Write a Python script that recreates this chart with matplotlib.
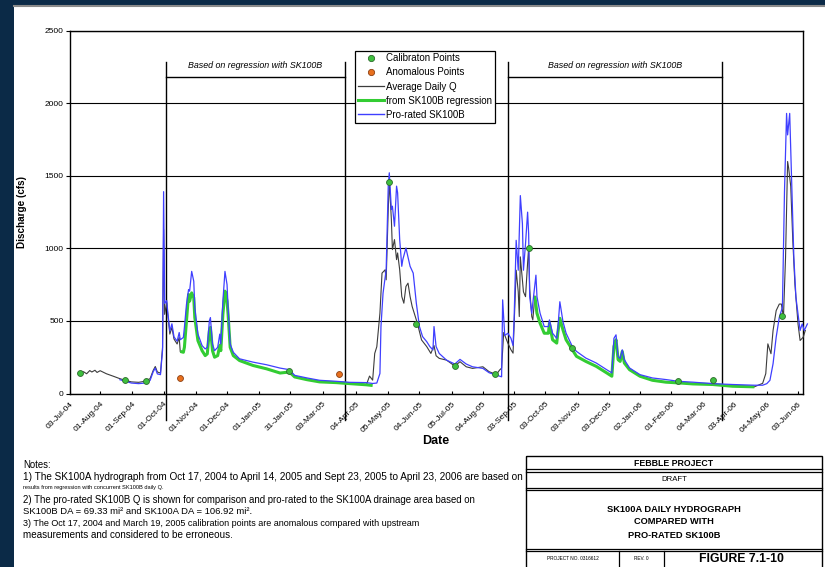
import matplotlib
matplotlib.use('Agg')
import matplotlib.pyplot as plt
import pandas as pd
from matplotlib.lines import Line2D
from matplotlib.patches import Rectangle

plt.rcParams['font.family'] = ['Liberation Sans', 'DejaVu Sans']

# ---------------- data ----------------
tick_dates = ['2004-07-03', '2004-08-01', '2004-09-01', '2004-10-01', '2004-11-01', '2004-12-01',
              '2005-01-01', '2005-01-31', '2005-03-03', '2005-04-04', '2005-05-05', '2005-06-04',
              '2005-07-05', '2005-08-04', '2005-09-03', '2005-10-03', '2005-11-03', '2005-12-03',
              '2006-01-02', '2006-02-01', '2006-03-04', '2006-04-03', '2006-05-04', '2006-06-03']
y_ticks = [0, 500, 1000, 1500, 2000, 2500]

# Average Daily Q (observed) segments
avgq_dates_1 = ['2004-07-13', '2004-07-16', '2004-07-19', '2004-07-22', '2004-07-24', '2004-07-27',
                '2004-07-29', '2004-08-01', '2004-08-03', '2004-08-07', '2004-08-14', '2004-08-20',
                '2004-08-25', '2004-08-31', '2004-09-07', '2004-09-13', '2004-09-18', '2004-09-21',
                '2004-09-23', '2004-09-25', '2004-09-28', '2004-09-30', '2004-10-01', '2004-10-02',
                '2004-10-04', '2004-10-05', '2004-10-07', '2004-10-09', '2004-10-11', '2004-10-14',
                '2004-10-16', '2004-10-17']
avgq_1 = [141, 150, 136, 158, 148, 160, 145, 157, 150, 136, 118, 102, 91, 80, 77, 84, 102, 159,
          186, 148, 141, 318, 1130, 545, 625, 545, 409, 455, 375, 341, 386, 290]

avgq_dates_2 = ['2005-04-14', '2005-04-17', '2005-04-20', '2005-04-22', '2005-04-24', '2005-04-27',
                '2005-04-29', '2005-05-02', '2005-05-03', '2005-05-05', '2005-05-06', '2005-05-08',
                '2005-05-09', '2005-05-11', '2005-05-13', '2005-05-14', '2005-05-16', '2005-05-18',
                '2005-05-20', '2005-05-22', '2005-05-24', '2005-05-26', '2005-05-28', '2005-06-01',
                '2005-06-02', '2005-06-06', '2005-06-11', '2005-06-15', '2005-06-18', '2005-06-20',
                '2005-06-23', '2005-06-30', '2005-07-08', '2005-07-13', '2005-07-19', '2005-07-25',
                '2005-08-04', '2005-08-10', '2005-08-17', '2005-08-20', '2005-08-22', '2005-08-24',
                '2005-08-28', '2005-08-31', '2005-09-02', '2005-09-05', '2005-09-07', '2005-09-08',
                '2005-09-09', '2005-09-11', '2005-09-12', '2005-09-14', '2005-09-16', '2005-09-17',
                '2005-09-18', '2005-09-20', '2005-09-21', '2005-09-23']
avgq_2 = [60, 120, 92, 276, 322, 553, 829, 852, 783, 1267, 1463, 1198, 991, 1060, 922, 968, 852, 668,
          622, 737, 760, 668, 599, 507, 484, 369, 323, 276, 330, 260, 242, 230, 189, 219, 184, 173,
          184, 150, 131, 161, 175, 420, 347, 301, 278, 849, 700, 530, 941, 781, 700, 667, 900, 1004,
          720, 530, 507, 671]

avgq_dates_3 = ['2006-04-22', '2006-04-30', '2006-05-03', '2006-05-05', '2006-05-08', '2006-05-10',
                '2006-05-13', '2006-05-16', '2006-05-18', '2006-05-20', '2006-05-22', '2006-05-24',
                '2006-05-25', '2006-05-27', '2006-05-29', '2006-05-31', '2006-06-03', '2006-06-05',
                '2006-06-08', '2006-06-10']
avgq_3 = [46, 70, 137, 342, 274, 434, 571, 616, 616, 525, 936, 1598, 1552, 1427, 1050, 753, 479, 365,
          388, 434]

# From SK100B regression
regr_dates_1 = ['2004-10-17', '2004-10-20', '2004-10-21', '2004-10-23', '2004-10-25', '2004-10-26',
                '2004-10-28', '2004-10-30', '2004-10-31', '2004-11-03', '2004-11-07', '2004-11-10',
                '2004-11-12', '2004-11-14', '2004-11-15', '2004-11-17', '2004-11-19', '2004-11-22',
                '2004-11-24', '2004-11-25', '2004-11-27', '2004-11-29', '2004-12-01', '2004-12-02',
                '2004-12-04', '2004-12-07', '2004-12-13', '2004-12-26', '2005-01-08', '2005-01-21',
                '2005-01-30', '2005-02-04', '2005-02-16', '2005-02-28', '2005-03-16', '2005-03-29',
                '2005-04-14', '2005-04-20']
regr_1 = [290, 284, 318, 500, 682, 636, 693, 659, 523, 364, 295, 261, 273, 432, 455, 295, 250, 261,
          330, 295, 545, 705, 636, 545, 318, 261, 227, 193, 170, 141, 148, 114, 95, 80, 75, 68, 60, 55]

regr_dates_2 = ['2005-09-23', '2005-09-25', '2005-09-28', '2005-10-02', '2005-10-06', '2005-10-07',
                '2005-10-10', '2005-10-14', '2005-10-15', '2005-10-17', '2005-10-20', '2005-10-23',
                '2005-10-26', '2005-10-29', '2005-11-02', '2005-11-11', '2005-11-21', '2005-12-01',
                '2005-12-06', '2005-12-08', '2005-12-10', '2005-12-12', '2005-12-14', '2005-12-16',
                '2005-12-18', '2005-12-23', '2006-01-02', '2006-01-14', '2006-01-27', '2006-02-08',
                '2006-02-22', '2006-03-13', '2006-04-01', '2006-04-22']
regr_2 = [671, 552, 484, 415, 415, 484, 370, 347, 415, 518, 438, 370, 336, 301, 256, 221, 187, 142,
          119, 324, 370, 233, 221, 290, 210, 164, 119, 91, 78, 73, 66, 62, 50, 46]

# Pro-rated SK100B
pro_dates = [
    '2004-08-20', '2004-08-25', '2004-08-31', '2004-09-07', '2004-09-13', '2004-09-18', '2004-09-21', '2004-09-23', '2004-09-25', '2004-09-28',
    '2004-09-30', '2004-10-01', '2004-10-02', '2004-10-04', '2004-10-05', '2004-10-07', '2004-10-09', '2004-10-11', '2004-10-14', '2004-10-16',
    '2004-10-17', '2004-10-20', '2004-10-21', '2004-10-23', '2004-10-25', '2004-10-26', '2004-10-28', '2004-10-30', '2004-10-31', '2004-11-03',
    '2004-11-07', '2004-11-10', '2004-11-12', '2004-11-14', '2004-11-15', '2004-11-17', '2004-11-19', '2004-11-22', '2004-11-24', '2004-11-25',
    '2004-11-27', '2004-11-29', '2004-12-01', '2004-12-02', '2004-12-04', '2004-12-07', '2004-12-13', '2004-12-26', '2005-01-08', '2005-01-21',
    '2005-01-30', '2005-02-04', '2005-02-16', '2005-02-28', '2005-03-16', '2005-03-29', '2005-04-14', '2005-04-20', '2005-04-24', '2005-04-27',
    '2005-04-28', '2005-04-30', '2005-05-03', '2005-05-05', '2005-05-06', '2005-05-08', '2005-05-09', '2005-05-11', '2005-05-13', '2005-05-14',
    '2005-05-16', '2005-05-18', '2005-05-19', '2005-05-22', '2005-05-26', '2005-05-29', '2005-06-01', '2005-06-04', '2005-06-07', '2005-06-11',
    '2005-06-14', '2005-06-17', '2005-06-18', '2005-06-20', '2005-06-23', '2005-06-30', '2005-07-08', '2005-07-13', '2005-07-19', '2005-07-25',
    '2005-08-04', '2005-08-10', '2005-08-17', '2005-08-22', '2005-08-23', '2005-08-25', '2005-08-28', '2005-08-31', '2005-09-02', '2005-09-03',
    '2005-09-05', '2005-09-07', '2005-09-09', '2005-09-11', '2005-09-12', '2005-09-14', '2005-09-16', '2005-09-17', '2005-09-18', '2005-09-20',
    '2005-09-21', '2005-09-23', '2005-09-24', '2005-09-25', '2005-09-28', '2005-10-02', '2005-10-06', '2005-10-07', '2005-10-10', '2005-10-14',
    '2005-10-15', '2005-10-17', '2005-10-20', '2005-10-23', '2005-10-26', '2005-10-29', '2005-11-02', '2005-11-11', '2005-11-21', '2005-12-01',
    '2005-12-06', '2005-12-08', '2005-12-10', '2005-12-12', '2005-12-14', '2005-12-16', '2005-12-18', '2005-12-23', '2006-01-02', '2006-01-14',
    '2006-01-27', '2006-02-08', '2006-02-22', '2006-03-13', '2006-04-01', '2006-04-22', '2006-04-30', '2006-05-04', '2006-05-07', '2006-05-10',
    '2006-05-13', '2006-05-16', '2006-05-19', '2006-05-21', '2006-05-23', '2006-05-24', '2006-05-26', '2006-05-28', '2006-05-30', '2006-06-01',
    '2006-06-05', '2006-06-07', '2006-06-09', '2006-06-12',
]
pro_vals = [
    95, 85, 72, 68, 72, 90, 150, 175, 135, 130,
    300, 1390, 620, 640, 560, 430, 480, 390, 360, 420,
    370, 386, 455, 614, 716, 705, 841, 773, 591, 409,
    330, 307, 318, 500, 523, 341, 295, 318, 409, 341,
    636, 841, 750, 591, 341, 284, 239, 216, 198, 175,
    164, 125, 107, 91, 84, 77, 75, 69, 72, 138,
    461, 691, 852, 1428, 1520, 1267, 1290, 1152, 1428, 1382,
    1060, 876, 922, 1002, 876, 829, 622, 461, 392, 357,
    323, 300, 461, 323, 276, 230, 203, 235, 203, 184,
    173, 143, 127, 115, 645, 400, 415, 380, 330, 507,
    1055, 849, 1363, 1169, 849, 1032, 1249, 1100, 667, 552,
    621, 750, 815, 667, 552, 461, 461, 507, 415, 380,
    440, 632, 495, 415, 370, 324, 290, 244, 210, 164,
    142, 380, 404, 256, 240, 301, 233, 176, 130, 107,
    96, 84, 78, 68, 62, 57, 57, 68, 91, 205,
    388, 525, 594, 1393, 1929, 1781, 1929, 1438, 936, 662,
    434, 479, 434, 479,
]

calib_dates = ['2004-07-13', '2004-08-25', '2004-09-14', '2005-01-30', '2005-05-06', '2005-06-01',
               '2005-07-08', '2005-08-16', '2005-09-17', '2005-10-29', '2006-02-08', '2006-03-13',
               '2006-05-19']
calib_vals = [141, 91, 89, 155, 1458, 479, 189, 131, 1004, 313, 84, 91, 534]

anom_dates = ['2004-10-17', '2005-03-19']
anom_vals = [109, 132]

# regression-period brackets (drawn annotation)
bracket_dates = [('2004-10-03', '2005-03-24'), ('2005-08-28', '2006-03-22')]
bracket_text = 'Based on regression with SK100B'

legend_labels = ['Calibraton Points', 'Anomalous Points', 'Average Daily Q',
                 'from SK100B regression', 'Pro-rated SK100B']

notes_lines = [
    'Notes:',
    '1) The SK100A hydrograph from Oct 17, 2004 to April 14, 2005 and Sept 23, 2005 to April 23, 2006 are based on',
    'results from regression with concurrent SK100B daily Q.',
    '2) The pro-rated SK100B Q is shown for comparison and pro-rated to the SK100A drainage area based on',
    'SK100B DA = 69.33 mi\u00b2 and SK100A DA = 106.92 mi\u00b2.',
    '3) The Oct 17, 2004 and March 19, 2005 calibration points are anomalous compared with upstream',
    'measurements and considered to be erroneous.',
]
title_lines = ['SK100A DAILY HYDROGRAPH', 'COMPARED WITH', 'PRO-RATED SK100B']

for a, b in [(avgq_dates_1, avgq_1), (avgq_dates_2, avgq_2), (avgq_dates_3, avgq_3),
             (regr_dates_1, regr_1), (regr_dates_2, regr_2), (pro_dates, pro_vals),
             (calib_dates, calib_vals), (anom_dates, anom_vals)]:
    assert len(a) == len(b), (len(a), len(b))

D = pd.to_datetime

# ---------------- figure ----------------
W, H = 825, 567
fig = plt.figure(figsize=(W / 100, H / 100), dpi=100)
fig.patch.set_facecolor('white')


def fx(px):
    return px / W


def fy(py):
    return 1 - py / H


# page overlay in pixel coordinates
ov = fig.add_axes([0, 0, 1, 1], zorder=0)
ov.set_xlim(0, W)
ov.set_ylim(H, 0)
ov.axis('off')
navy = '#0b2a47'
ov.add_patch(Rectangle((0, 0), 14, H, color=navy, lw=0))
ov.add_patch(Rectangle((0, 0), W, 4.5, color=navy, lw=0))
ov.plot([14, W], [5.5, 5.5], color='#8a8a8a', lw=1.5)

ax = fig.add_axes([fx(70), fy(393.5), fx(803) - fx(70), fy(30.5) - fy(393.5)], zorder=2)

c_black = '#3c3c3c'
c_green = '#33cc33'
c_blue = '#3f3fff'

for dts, vals in [(avgq_dates_1, avgq_1), (avgq_dates_2, avgq_2), (avgq_dates_3, avgq_3)]:
    ax.plot(D(dts), vals, color=c_black, lw=0.8, zorder=3, clip_on=False)
for dts, vals in [(regr_dates_1, regr_1), (regr_dates_2, regr_2)]:
    ax.plot(D(dts), vals, color=c_green, lw=2.2, zorder=4, solid_capstyle='butt')
ax.plot(D(pro_dates), pro_vals, color=c_blue, lw=0.9, zorder=5, clip_on=False)

ax.scatter(D(calib_dates), calib_vals, s=18, color='#3fbf3f', edgecolors='#2c6b2c',
           linewidths=0.6, zorder=6)
ax.scatter(D(anom_dates), anom_vals, s=18, color='#e8701e', edgecolors='#8c3f12',
           linewidths=0.6, zorder=6)

ax.set_xlim(D('2004-07-03'), D('2006-06-07 19:00'))
ax.set_ylim(0, 2500)
ax.set_yticks(y_ticks)
ax.set_yticklabels([str(v) for v in y_ticks], fontsize=6)
ax.yaxis.grid(True, color='black', lw=0.8)
ax.set_axisbelow(True)
ax.tick_params(axis='y', direction='out', length=3, width=0.8, pad=1.5)

tds = D(tick_dates)
ax.set_xticks(tds)
ax.set_xticklabels([t.strftime('%d-%b-%y') for t in tds], rotation=45, ha='right',
                   va='top', rotation_mode='anchor', fontsize=6)
ax.tick_params(axis='x', direction='in', length=2, width=0.8, pad=5)
for s in ax.spines.values():
    s.set_color('black')
    s.set_linewidth(1.0)

# brackets
for d1, d2 in bracket_dates:
    t1, t2 = D(d1), D(d2)
    for t in (t1, t2):
        ax.plot([t, t], [-183, 2283], color='black', lw=1.0, clip_on=False, zorder=2)
    ax.plot([t1, t2], [2180, 2180], color='black', lw=1.0, clip_on=False, zorder=2)
    ax.text(t1 + (t2 - t1) / 2, 2262, bracket_text, ha='center', va='center',
            fontsize=6.4, style='italic', zorder=3)

# legend
handles = [
    Line2D([], [], ls='', marker='o', markersize=4.5, color='#3fbf3f', mec='#2c6b2c', mew=0.6),
    Line2D([], [], ls='', marker='o', markersize=4.5, color='#e8701e', mec='#8c3f12', mew=0.6),
    Line2D([], [], color=c_black, lw=0.9),
    Line2D([], [], color=c_green, lw=2.2),
    Line2D([], [], color=c_blue, lw=1.0),
]
leg = ax.legend(handles, legend_labels, loc='upper left', bbox_to_anchor=(fx(355), fy(50.5)),
                bbox_transform=fig.transFigure, frameon=True, fancybox=False, framealpha=1,
                edgecolor='black', fontsize=7, handlelength=2.7, handletextpad=0.15,
                labelspacing=0.42, borderpad=0.3, borderaxespad=0)
leg.get_frame().set_linewidth(0.9)
leg.set_zorder(10)

# axis titles
ov.text(436, 441, 'Date', ha='center', va='center', fontsize=9, fontweight='bold')
ov.text(22, 212, 'Discharge (cfs)', ha='center', va='center', rotation=90, fontsize=7.2,
        fontweight='bold')

# notes
note_y = [465, 477, 488, 500, 512, 523.5, 535.5]
note_fs = [6.9, 7.2, 4.1, 6.9, 6.8, 6.5, 7.1]
for txt, yy, fs in zip(notes_lines, note_y, note_fs):
    ov.text(23, yy, txt, ha='left', va='center', fontsize=fs)

# title block
L, R = 526, 822
ov.add_patch(Rectangle((L, 456), R - L, 120, fill=False, ec='black', lw=1.0))
for yy in (469, 471.5, 487.5, 489.5, 549, 551):
    ov.plot([L, R], [yy, yy], color='black', lw=0.9)
for xx in (619, 664):
    ov.plot([xx, xx], [551, H], color='black', lw=0.9)
cx = (L + R) / 2
ov.text(cx, 463, 'FEBBLE PROJECT', ha='center', va='center', fontsize=6.3, fontweight='bold')
ov.text(cx, 479.5, 'DRAFT', ha='center', va='center', fontsize=5.6)
for txt, yy in zip(title_lines, (509, 522, 535)):
    ov.text(cx, yy, txt, ha='center', va='center', fontsize=6.7, fontweight='bold')
ov.text(573, 559, 'PROJECT NO. 0316612', ha='center', va='center', fontsize=3.4)
ov.text(641, 559, 'REV. 0', ha='center', va='center', fontsize=3.4)
ov.text(741, 559, 'FIGURE 7.1-10', ha='center', va='center', fontsize=8.8, fontweight='bold')

fig.savefig('out.png', dpi=100, facecolor='white')
